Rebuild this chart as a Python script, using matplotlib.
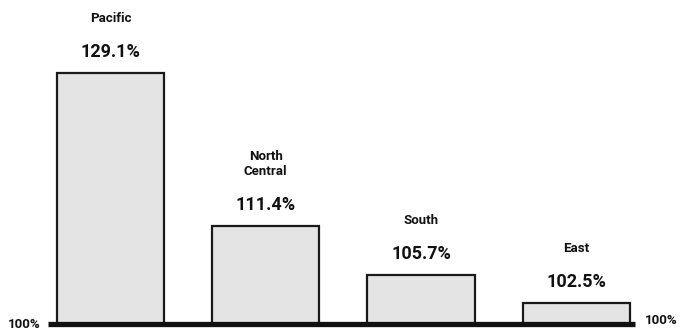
import matplotlib.pyplot as plt

regions = ['Pacific', 'North\nCentral', 'South', 'East']
index = [129.1, 111.4, 105.7, 102.5]
value_labels = ['129.1%', '111.4%', '105.7%', '102.5%']
base = 100

plt.rcParams['font.family'] = ['Roboto', 'DejaVu Sans']

fig = plt.figure(figsize=(6.84, 3.32), dpi=100)
ax = fig.add_axes([0, 0, 1, 1])

x = range(len(regions))
heights = [v - base for v in index]
bars = ax.bar(x, heights, bottom=base, width=0.69, color='#e4e4e4',
              edgecolor='#1a1a1a', linewidth=1.6, zorder=2)

for b, name, lab in zip(bars, regions, value_labels):
    cx = b.get_x() + b.get_width() / 2
    top = b.get_y() + b.get_height()
    ax.annotate(lab, (cx, top), xytext=(0, 16), textcoords='offset pixels',
                ha='center', va='baseline', fontsize=13, fontweight='bold',
                color='#111111')
    ax.annotate(name, (cx, top), xytext=(0, 51), textcoords='offset pixels',
                ha='center', va='baseline', fontsize=9.5, fontweight='bold',
                color='#111111', linespacing=1.2)

# baseline at 100%
ax.plot([-0.40, 3.38], [base, base], color='#111111', linewidth=3.8,
        solid_capstyle='butt', zorder=3)
ax.text(-0.66, base - 0.05, '100%', ha='left', va='center', fontsize=9.5,
        fontweight='bold', color='#111111')
ax.text(3.44, base + 0.45, '100%', ha='left', va='center', fontsize=9.5,
        fontweight='bold', color='#111111')

ax.set_xlim(-0.711, 3.693)
ax.set_ylim(99.09, 137.5)
ax.axis('off')

fig.savefig('out.png', dpi=100)
